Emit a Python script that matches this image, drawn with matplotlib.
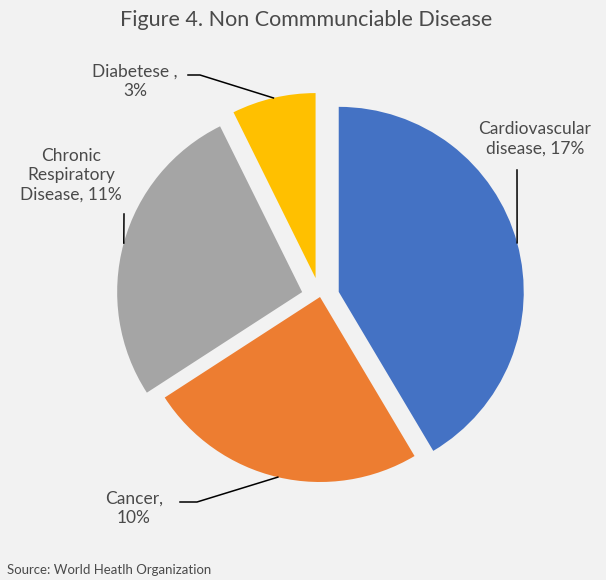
import numpy as np
import matplotlib.pyplot as plt

labels = ["Cardiovascular\ndisease, 17%", "Cancer,\n10%", "Chronic\nRespiratory\nDisease, 11%", "Diabetese ,\n3%"]
values = [17, 10, 11, 3]
colors = ["#4472C4", "#ED7D31", "#A5A5A5", "#FFC000"]
explode = [0.105, 0.0, 0.1, 0.105]

W, H = 606, 580
R = 185.0          # pie radius in pixels
CX, CY = 320, 297  # pie centre, pixels from top-left


def px(x, y):
    return (x - CX) / R, (CY - y) / R


fig = plt.figure(figsize=(W / 100, H / 100), dpi=100)
fig.patch.set_facecolor("#F2F2F2")
ax = fig.add_axes([0, 0, 1, 1])
ax.set_facecolor("#F2F2F2")

wedges, _ = ax.pie(values, colors=colors, startangle=90, counterclock=False,
                   explode=explode, radius=1.0,
                   wedgeprops=dict(linewidth=0))
ax.set_xlim(-CX / R, (W - CX) / R)
ax.set_ylim(-(H - CY) / R, CY / R)
ax.axis("off")

txt = "#4a4a4a"
fs = 12.5
# text position (px), elbow points (px) from the text side
label_pos = [
    ((535, 139), [(517, 170)]),
    ((134, 508), [(180, 502), (197, 502)]),
    ((71, 175), [(124, 214)]),
    ((135, 81), [(188, 75), (200, 75)]),
]

for w, lab, (tp, elbow) in zip(wedges, labels, label_pos):
    mid = np.deg2rad((w.theta1 + w.theta2) / 2)
    cx, cy = w.center
    ax_pt = (cx + np.cos(mid), cy + np.sin(mid))
    tx, ty = px(*tp)
    ax.text(tx, ty, lab, ha="center", va="center", fontsize=fs, color=txt,
            family="Lato", linespacing=1.25)
    pts = [px(*e) for e in elbow] + [ax_pt]
    ax.plot([p[0] for p in pts], [p[1] for p in pts], color="black", lw=1.1)

fig.text(0.505, 0.965, "Figure 4. Non Commmunciable Disease", ha="center", va="center",
         fontsize=15.5, color=txt, family="Lato")
fig.text(0.011, 0.017, "Source: World Heatlh Organization", ha="left", va="center",
         fontsize=9.5, color=txt, family="Lato")

fig.savefig("out.png", dpi=100, facecolor=fig.get_facecolor())
